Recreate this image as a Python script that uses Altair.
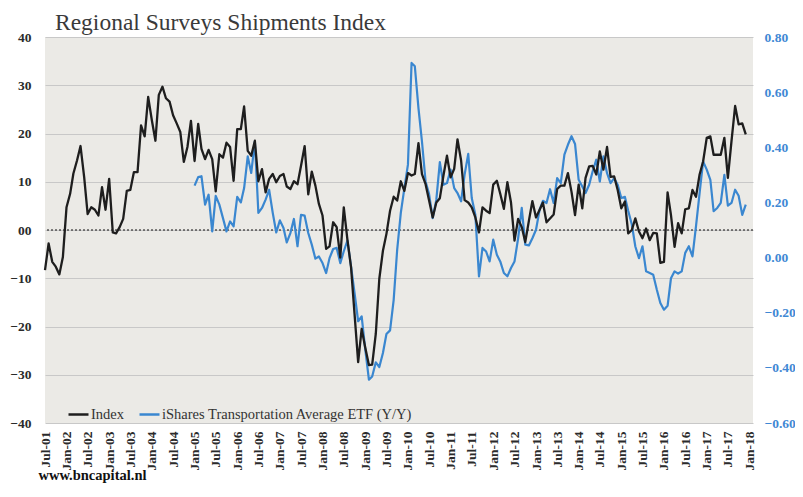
import altair as alt
import pandas as pd

# ---------------- data ----------------
index_start = "2001-07-01"   # monthly, Jul-01 .. Dec-17
index_values = [
    -8.3, -2.8, -6.6, -7.6, -9.2, -5.6, 4.7, 7.5, 11.7, 14.4,
    17.4, 11.0, 3.3, 4.7, 4.2, 3.0, 8.9, 4.2, 10.6, -0.5,
    -0.7, 0.6, 2.3, 8.1, 8.3, 12.0, 12.0, 21.7, 19.4, 27.6,
    22.8, 18.5, 28.0, 29.7, 27.3, 26.6, 23.8, 22.1, 20.3, 14.1,
    17.2,
    22.6, 14.3, 22.0, 16.8, 14.7, 16.6, 14.7, 8.0, 15.7, 15.0,
    18.1, 17.2, 10.2, 20.9, 20.9, 25.6, 16.4, 15.4, 18.5, 10.1,
    12.6, 7.8, 10.6, 11.6, 9.9, 11.2, 11.6, 9.0, 8.5, 10.1,
    9.5, 13.3, 17.4, 7.4, 12.1, 9.2, 5.4, 3.0, -3.9, -3.4,
    1.6, 0.6, -5.7, 4.7, -2.0, -7.7, -17.4, -27.4, -20.5, -24.4,
    -28.0, -27.9, -21.5, -10.1, -4.3, -0.8, 4.0, 6.9, 6.1, 10.1,
    8.1, 11.8, 11.3, 11.6, 18.0, 11.6, 9.5, 6.1, 2.6, 5.7,
    6.6, 11.3, 15.4, 10.9, 12.7, 18.8, 14.4, 6.2, 5.7, 4.7,
    2.6, -0.5, 4.7, 4.0, 3.5, 9.4, 10.2, 7.5, 4.4, 9.9,
    5.7, -2.2,
    2.3, 0.6, -2.5, 1.9, 6.0, 2.6, 4.2, 5.7, 1.6, 2.4,
    3.2, 8.5, 9.2, 9.2, 11.8, 7.9, 3.1,
    9.4, 4.5, 10.8, 13.2, 13.3, 11.5, 16.3, 12.5, 17.2, 11.0,
    11.1, 8.3, 4.5, 5.9, -0.7, 0.0, 2.4, -0.3, -1.7, 0.3,
    -2.1, -0.6, -0.7,
    -6.8, -6.6, 7.8, 3.1, -3.5, 1.4, -0.7, 4.3, 4.5, 8.3,
    6.9, 11.5, 14.2, 19.1, 19.4, 15.6, 15.6, 15.6, 19.1, 10.8,
    18.4, 25.7, 21.9, 22.1, 19.8,
]

etf_start = "2005-01-01"     # monthly, Jan-05 .. Dec-17
etf_values = [
    0.261, 0.292, 0.295, 0.192, 0.228, 0.095, 0.224, 0.192, 0.143, 0.095,
    0.131, 0.113, 0.220, 0.200, 0.252, 0.367, 0.307, 0.421, 0.162, 0.180,
    0.210, 0.246, 0.162, 0.091, 0.135, 0.107, 0.055, 0.089, 0.140, 0.041,
    0.155, 0.152, 0.089, 0.047, -0.004, 0.004, -0.020, -0.056, -0.002, 0.031,
    0.035, -0.020, 0.023, 0.062, -0.032, -0.128, -0.231, -0.213, -0.334, -0.443,
    -0.431, -0.380, -0.397, -0.346, -0.277, -0.264, -0.153, 0.029, 0.162,
    0.25, 0.337, 0.706, 0.694, 0.542, 0.421, 0.276, 0.23, 0.143, 0.210,
    0.346, 0.264, 0.270, 0.319, 0.252, 0.234, 0.204, 0.301, 0.376, 0.216,
    0.155, -0.068, 0.035, 0.022, -0.014, 0.065, 0.010, -0.014, -0.056, -0.068,
    -0.038, -0.014, 0.07,
    0.180, 0.047, 0.044, 0.07, 0.101, 0.174, 0.206, 0.198, 0.248, 0.198,
    0.288, 0.270, 0.373, 0.409, 0.440, 0.412, 0.282, 0.258, 0.234, 0.264,
    0.313, 0.355, 0.276, 0.367, 0.306, 0.270, 0.288, 0.264, 0.216, 0.220,
    0.17, 0.12, 0.04, -0.002, 0.041,
    -0.050, -0.056, -0.062, -0.117, -0.165, -0.189, -0.175, -0.075, -0.050, -0.058,
    -0.050, 0.017, 0.041, 0.004, 0.113, 0.234, 0.349, 0.319, 0.282, 0.168,
    0.180, 0.198, 0.300, 0.188, 0.198, 0.246, 0.224, 0.155, 0.192,
]

series_names = ["Index", "iShares Transportation Average ETF (Y/Y)"]
series_colors = ["#1e1e1e", "#3a87d0"]

left_ticks = [-40, -30, -20, -10, 0, 10, 20, 30, 40]
right_ticks = [-0.6, -0.4, -0.2, 0.0, 0.2, 0.4, 0.6, 0.8]
x_tick_first = "2001-07-01"
x_tick_last = "2018-01-01"
x_domain_end = "2018-02-01"

# ---------------- tables ----------------
idx_dates = pd.date_range(index_start, periods=len(index_values), freq="MS")
etf_dates = pd.date_range(etf_start, periods=len(etf_values), freq="MS")

df_idx = pd.DataFrame({"date": idx_dates.strftime("%Y-%m-%d"),
                       "value": index_values, "series": series_names[0]})
df_etf = pd.DataFrame({"date": etf_dates.strftime("%Y-%m-%d"),
                       "value": etf_values, "series": series_names[1]})
df_zero = pd.DataFrame({"value": [0]})


def dt(ts):
    return alt.DateTime(year=ts.year, month=ts.month, date=ts.day, utc=True)


tick_vals = [dt(t) for t in pd.date_range(x_tick_first, x_tick_last, freq="6MS")]
x_scale = alt.Scale(type="utc", domain=[dt(pd.Timestamp(index_start)),
                                        dt(pd.Timestamp(x_domain_end))])

FONT = "Liberation Serif"

x_axis = alt.Axis(values=tick_vals, labelExpr="utcFormat(datum.value, '%b-%y')",
                  labelAngle=270, labelFont=FONT, labelFontWeight="bold",
                  labelFontSize=13.5, labelColor="#2b2b2b", labelPadding=8,
                  labelOverlap=False, ticks=False, domain=False, grid=False,
                  title="www.bncapital.nl", titleFont=FONT, titleFontSize=14.5,
                  titleFontWeight="bold", titleColor="#111111",
                  titleAnchor="start", titleAlign="left",
                  titleBaseline="alphabetic", titleX=-7, titleY=56)

left_scale = alt.Scale(domain=[-40, 40], nice=False, zero=False)
right_scale = alt.Scale(domain=[-0.6, 0.8], nice=False, zero=False)

color_enc = alt.Color(
    "series:N",
    scale=alt.Scale(domain=series_names, range=series_colors),
    legend=alt.Legend(orient="none", legendX=22, legendY=366,
                      direction="horizontal", title=None,
                      symbolType="stroke", symbolSize=400,
                      symbolStrokeWidth=2.5, labelFont=FONT,
                      labelFontSize=14.5, labelColor="#333333",
                      labelLimit=400, labelOffset=1, columnPadding=9),
)

zero_rule = alt.Chart(df_zero).mark_rule(
    color="#111111", strokeDash=[2, 2], strokeWidth=1
).encode(y=alt.Y("value:Q", scale=left_scale, axis=None))

etf_line = alt.Chart(df_etf).mark_line(strokeWidth=2.2, strokeJoin="round").encode(
    x=alt.X("date:T", scale=x_scale, axis=x_axis),
    y=alt.Y("value:Q", scale=right_scale,
            axis=alt.Axis(orient="right", values=right_ticks, format=".2f",
                          grid=False, ticks=False, domain=False,
                          labelPadding=11, labelColor="#3f88d4",
                          labelFont=FONT, labelFontWeight="bold",
                          labelFontSize=13.5, title=None)),
    color=color_enc,
)

idx_line = alt.Chart(df_idx).mark_line(strokeWidth=2.3, strokeJoin="round").encode(
    x=alt.X("date:T", scale=x_scale, axis=x_axis),
    y=alt.Y("value:Q", scale=left_scale,
            axis=alt.Axis(orient="left", values=left_ticks,
                          labelExpr="datum.value == 0 ? '00' : datum.label",
                          grid=True, gridColor="#c8c8c8", gridWidth=1,
                          ticks=False, domain=False, labelPadding=14,
                          labelFont=FONT, labelFontWeight="bold",
                          labelFontSize=13.5, labelColor="#2b2b2b",
                          title=None)),
    color=color_enc,
)

chart = alt.layer(zero_rule, etf_line, idx_line).resolve_scale(
    y="independent"
).properties(
    width=708, height=386,
    autosize=alt.AutoSizeParams(type="none"),
    padding={"left": 37, "top": 29, "right": 42, "bottom": 61},
    title=alt.Title("Regional Surveys Shipments Index", anchor="start",
                    frame="group", font=FONT, fontSize=23.5,
                    fontWeight="normal", color="#3a3a3a", dx=10, dy=4.5,
                    offset=0),
).configure_view(fill="#ebeae6", strokeWidth=0)

chart.save("out.html", embed_options={"renderer": "svg", "actions": False})
